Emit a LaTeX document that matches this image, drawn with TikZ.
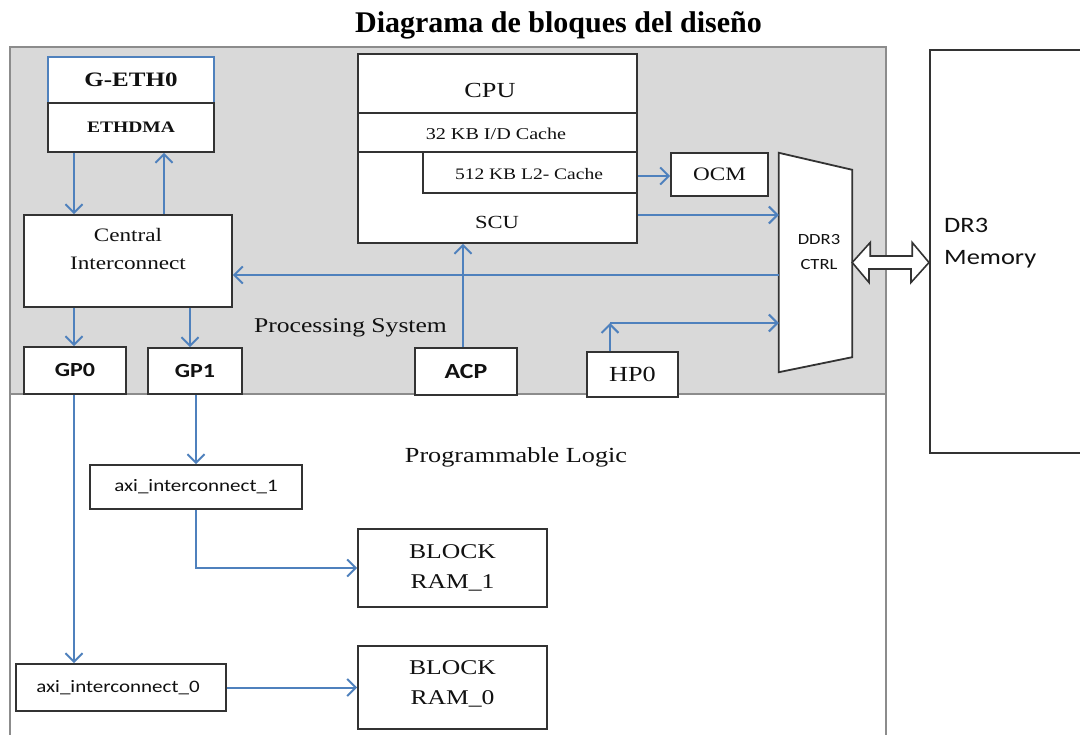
\documentclass[tikz,border=0pt]{standalone}
\usepackage{fontspec}
\setmainfont{Liberation Serif}
\newfontfamily\serS{Liberation Serif}[FakeStretch=1.22]
\newfontfamily\sanS{Carlito}[FakeStretch=1.2]
\usetikzlibrary{arrows.meta,calc}
\definecolor{psgray}{HTML}{D9D9D9}
\definecolor{frameline}{HTML}{8C8C8C}
\definecolor{arrblue}{HTML}{4F81BD}
\definecolor{boxline}{HTML}{333333}
\definecolor{txt}{HTML}{111111}
\newcommand{\fs}[1]{\fontsize{#1}{#1}\selectfont}
\begin{document}
\begin{tikzpicture}[x=1pt,y=-1pt,
  box/.style={draw=boxline, line width=1.8pt, fill=white, inner sep=0pt},
  arr/.style={draw=arrblue, line width=2pt, -{Straight Barb[length=8.5pt,width=17pt,line width=2pt]}},
  lbl/.style={text=txt, inner sep=0pt, align=center},
  serl/.style={lbl, font=\serS\fs{#1}},
  sanl/.style={lbl, font=\sanS\fs{#1}},
  sanb/.style={lbl, font=\sanS\bfseries\fs{#1}}]
\useasboundingbox (0,0) rectangle (1080,735);
\fill[white] (0,0) rectangle (1080,735);

% title
\node[inner sep=0pt, anchor=base, text=black, font=\bfseries\fs{30}] (title) at (558.5,33) {Diagrama de bloques del diseño};

% Processing system region
\fill[psgray] (10,47) rectangle (886,394);
\draw[frameline, line width=1.6pt] (10,735) -- (10,47) -- (886,47) -- (886,735);
\draw[frameline, line width=1.6pt] (10,394) -- (886,394);

% column/row helper coordinates
\coordinate (xa) at (74,0);
\coordinate (xb) at (164,0);
\coordinate (xc) at (190,0);
\coordinate (xd) at (196,0);
\coordinate (xh) at (610,0);
\coordinate (xs) at (463,0);
\coordinate (y176) at (0,176);
\coordinate (y215) at (0,215);
\coordinate (y275) at (0,275);
\coordinate (y323) at (0,323);

% G-ETH0 / ETHDMA
\node[box, draw=arrblue, minimum width=166, minimum height=46] (geth) at (131,80) {};
\node[box, minimum width=166, minimum height=49] (ethdma) at (131,127.5) {};
\node[lbl, font=\serS\bfseries\fs{20.5}] (gethtxt) at (geth.center) {G-ETH0};
\node[lbl, font=\serS\bfseries\fs{16}] (ethdmatxt) at (ethdma.center) {ETHDMA};

% Central interconnect
\node[box, minimum width=208, minimum height=92] (central) at (128,261) {};
\node[lbl, font=\serS\fontsize{19}{28}\selectfont] (centraltxt) at (128,249) {Central\\Interconnect};

% ports
\node[box, minimum width=102, minimum height=47] (gp0) at (75,370.5) {};
\node[sanb=20] (gp0txt) at (gp0.center) {GP0};
\node[box, minimum width=94, minimum height=46] (gp1) at (195,371) {};
\node[sanb=20] (gp1txt) at (gp1.center) {GP1};
\node[box, minimum width=102, minimum height=47] (acp) at (466,371.5) {};
\node[sanb=21.5] (acptxt) at (acp.center) {ACP};
\node[box, minimum width=91, minimum height=45] (hp0) at (632.5,374.5) {};
\node[serl=21.5] (hp0txt) at (hp0.center) {HP0};

\node[serl=21] (pstxt) at (350.5,328) {Processing System};

% CPU block
\node[box, minimum width=279, minimum height=189] (cpu) at (497.5,148.5) {};
\node[box, minimum width=279, minimum height=39] (idc) at (497.5,132.5) {};
\node[box, minimum width=214, minimum height=41] (l2) at (530,172.5) {};
\node[serl=21.5] (cputxt) at (490,90) {CPU};
\node[serl=16.5] (idctxt) at (496,134) {32 KB I/D Cache};
\node[serl=16] (l2txt) at (529,174) {512 KB L2- Cache};
\node[serl=18.5] (scutxt) at (497,222) {SCU};

% OCM
\node[box, minimum width=97, minimum height=43] (ocm) at (719.5,174.5) {};
\node[serl=19] (ocmtxt) at (ocm.center) {OCM};

% DDR3 controller (trapezoid)
\node[inner sep=0pt, minimum width=73, minimum height=219] (ddr) at (815.5,262.5) {};
\draw[boxline, line width=1.8pt, fill=white]
  (ddr.north west) -- ($(ddr.north east)+(0,17)$) -- ($(ddr.south east)+(0,-15)$) -- (ddr.south west) -- cycle;
\node[lbl, font=\sanS\fontsize{15.5}{25}\selectfont] (ddrtxt) at (819,252.5) {DDR3\\CTRL};

% DR3 memory
\node[box, anchor=north west, minimum width=170, minimum height=403] (mem) at (929,49) {};
\node[lbl, font=\sanS\fontsize{22}{32}\selectfont, align=left, anchor=west] (memtxt) at (944,243) {DR3\\Memory};

% double arrow DDR <-> memory
\draw[boxline, line width=1.6pt, fill=white]
  (ddr.east) -- ++(18,-20) -- ++(0,13.5) -- ++(42,0) -- ++(0,-13.5)
  -- (mem.west |- ddr.east) -- ++(-18,20) -- ++(0,-13.5) -- ++(-42,0) -- ++(0,13.5) -- cycle;

% PS arrows
\draw[arr] (ethdma.south -| xa) -- (central.north -| xa);
\draw[arr] (central.north -| xb) -- (ethdma.south -| xb);
\draw[arr] (central.south -| xa) -- (gp0.north -| xa);
\draw[arr] (central.south -| xc) -- (gp1.north -| xc);
\draw[arr] (l2.east |- y176) -- (ocm.west |- y176);
\draw[arr] (cpu.east |- y215) -- (ddr.west |- y215);
\draw[arr] (ddr.west |- y275) -- (central.east |- y275);
\draw[arr] (acp.north -| xs) -- (cpu.south -| xs);
\coordinate (hpc) at (xh |- y323);
\draw[arr] (hp0.north -| xh) -- (hpc);
\draw[arr] (hpc) -- (ddr.west |- y323);

% Programmable logic
\node[serl=21.5] (pltxt) at (516,457) {Programmable Logic};
\node[box, minimum width=212, minimum height=44] (axi1) at (196,487) {};
\node[sanl=17.5] (axi1txt) at (axi1.center) {axi\_interconnect\_1};
\node[box, minimum width=210, minimum height=47] (axi0) at (121,687.5) {};
\node[sanl=17.5] (axi0txt) at (118,687.5) {axi\_interconnect\_0};
\node[box, minimum width=189, minimum height=78] (bram1) at (452.5,568) {};
\node[lbl, font=\serS\fontsize{21}{30}\selectfont] (bram1txt) at (bram1.center) {BLOCK\\RAM\_1};
\node[box, minimum width=189, minimum height=83] (bram0) at (452.5,687.5) {};
\node[lbl, font=\serS\fontsize{21}{30}\selectfont] (bram0txt) at (452.5,684) {BLOCK\\RAM\_0};

\draw[arr] (gp0.south -| xa) -- (axi0.north -| xa);
\draw[arr] (gp1.south -| xd) -- (axi1.north -| xd);
\draw[arr] (axi1.south) |- (bram1.west);
\draw[arr] (axi0.east) -- (bram0.west);
\end{tikzpicture}
\end{document}
